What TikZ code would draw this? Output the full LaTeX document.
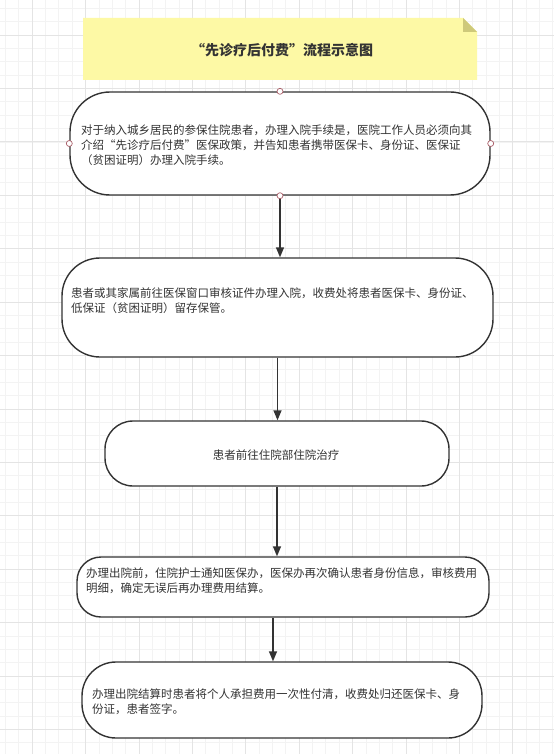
\documentclass[tikz,border=0pt]{standalone}
\usepackage{fontspec}
\setmainfont{Noto Sans CJK SC}
\usetikzlibrary{arrows.meta,calc}
\definecolor{gridminor}{RGB}{243,243,243}
\definecolor{gridmajor}{RGB}{228,228,228}
\definecolor{notefill}{RGB}{253,249,165}
\definecolor{notefold}{RGB}{206,201,122}
\definecolor{ink}{RGB}{51,51,51}
\definecolor{pincol}{RGB}{170,95,105}
\begin{document}
\begin{tikzpicture}[x=1pt,y=-1pt,
  flowbox/.style={draw=ink, line width=1.4pt, fill=white, inner sep=0pt, rectangle},
  txt/.style={text=ink, align=left, inner sep=0pt, font=\fontsize{11.5pt}{15pt}\selectfont},
  pinpt/.style={circle, draw=pincol, fill=white, line width=0.7pt, minimum size=6pt, inner sep=0pt},
  arr/.style={draw=ink, line width=1.4pt, -{Triangle[length=10pt,width=8pt]}}]
\useasboundingbox (0,0) rectangle (554,754);
\fill[white] (0,0) rectangle (554,754);
% grid
\foreach \k in {0,...,41} {\draw[gridminor, line width=0.5pt] ({5.3+\k*13.35},0) -- ({5.3+\k*13.35},754);}
\foreach \k in {0,...,56} {\draw[gridminor, line width=0.5pt] (0,{8.3+\k*13.35}) -- (554,{8.3+\k*13.35});}
\foreach \k in {0,...,9} {\draw[gridmajor, line width=0.6pt] ({32+\k*53.4},0) -- ({32+\k*53.4},754);}
\foreach \k in {0,...,13} {\draw[gridmajor, line width=0.6pt] (0,{35+\k*53.4}) -- (554,{35+\k*53.4});}
% title note
\fill[notefill] (83,18) -- (463,18) -- (477,32) -- (477,80) -- (83,80) -- cycle;
\fill[notefold] (463,18) -- (477,32) -- (463,32) -- cycle;
\node[text=ink, inner sep=0pt, font=\bfseries\fontsize{14pt}{16pt}\selectfont] (title) at (282,50) {“先诊疗后付费”流程示意图};
% boxes
\node[flowbox, minimum width=420pt, minimum height=103pt, rounded corners=40pt] (b1) at (280,143.5) {};
\node[flowbox, minimum width=431pt, minimum height=99pt, rounded corners=38pt] (b2) at (277.5,307.5) {};
\node[flowbox, minimum width=344pt, minimum height=65pt, rounded corners=28pt] (b3) at (277,453.5) {};
\node[flowbox, minimum width=412pt, minimum height=60pt, rounded corners=24pt] (b4) at (283,587) {};
\node[flowbox, minimum width=400pt, minimum height=76pt, rounded corners=34pt] (b5) at (282,700) {};
% texts
\node[txt, anchor=west] (t1) at (81,145) {对于纳入城乡居民的参保住院患者，办理入院手续是，医院工作人员必须向其\\介绍“先诊疗后付费”医保政策，并告知患者携带医保卡、身份证、医保证\\（贫困证明）办理入院手续。};
\node[txt, anchor=west] (t2) at (71,301) {患者或其家属前往医保窗口审核证件办理入院，收费处将患者医保卡、身份证、\\低保证（贫困证明）留存保管。};
\node[txt] (t3) at (276,455) {患者前往住院部住院治疗};
\node[txt, anchor=west] (t4) at (86,580.5) {办理出院前，住院护士通知医保办，医保办再次确认患者身份信息，审核费用\\明细，确定无误后再办理费用结算。};
\node[txt, anchor=west] (t5) at (92,702) {办理出院结算时患者将个人承担费用一次性付清，收费处归还医保卡、身\\份证，患者签字。};
% arrows
\coordinate (ax4) at (273,600);
\draw[arr] (b1.south) -- (b1.south |- b2.north);
\draw[arr] (b2.south) -- (b2.south |- b3.north);
\draw[arr] (b3.south) -- (b3.south |- b4.north);
\draw[arr] (b4.south -| ax4) -- (b5.north -| ax4);
% connection points on box 1
\node[pinpt] (p1) at (b1.north) {};
\node[pinpt] (p2) at (b1.south) {};
\node[pinpt] (p3) at (b1.west) {};
\node[pinpt] (p4) at (b1.east) {};
\end{tikzpicture}
\end{document}
